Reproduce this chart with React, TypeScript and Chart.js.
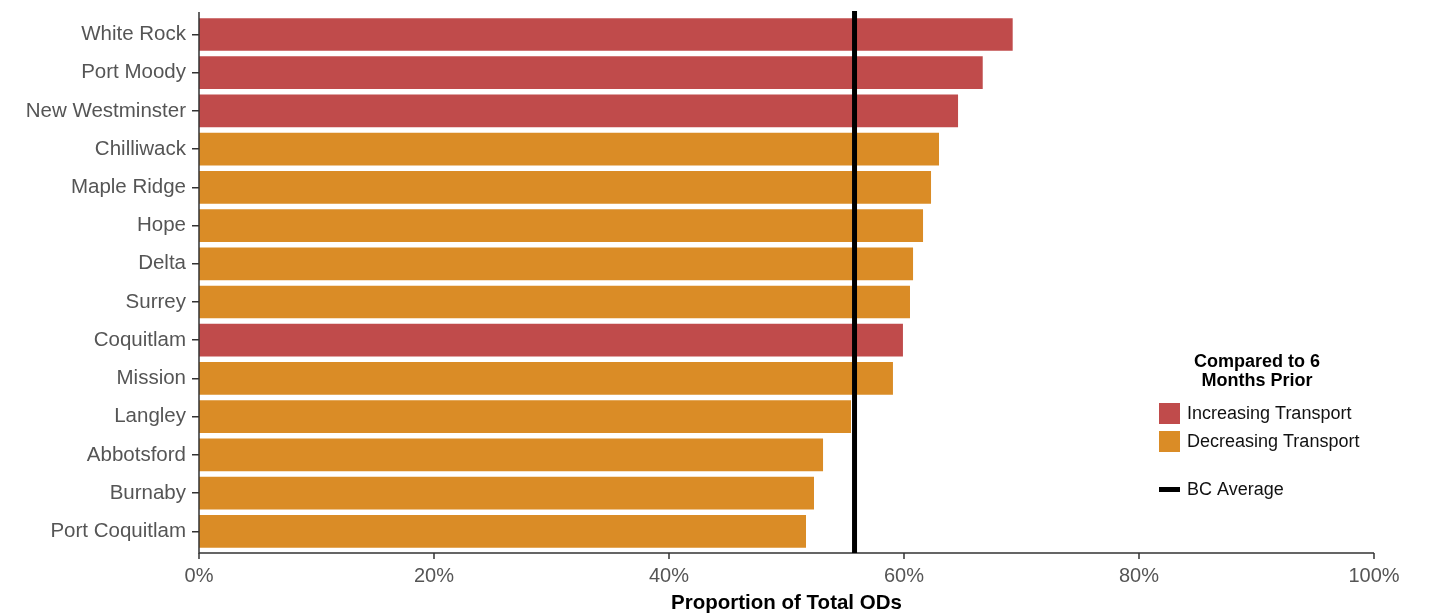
import React, { useEffect, useRef } from "react";
import { Chart, registerables } from "chart.js";

Chart.register(...registerables);

const categories = [
  "White Rock", "Port Moody", "New Westminster", "Chilliwack", "Maple Ridge", "Hope", "Delta",
  "Surrey", "Coquitlam", "Mission", "Langley", "Abbotsford", "Burnaby", "Port Coquitlam",
];
const proportions = [69.25, 66.7, 64.6, 62.98, 62.3, 61.62, 60.77, 60.51, 59.91, 59.06, 55.49, 53.11, 52.34, 51.66];
const trend = ["inc", "inc", "inc", "dec", "dec", "dec", "dec", "dec", "inc", "dec", "dec", "dec", "dec", "dec"];
const bcAverage = 55.79;
const xTicks = [0, 20, 40, 60, 80, 100];

const RED = "#C04B4B";
const ORANGE = "#DA8C26";
const FONT = "'Liberation Sans', Arial, Helvetica, sans-serif";

export default function App() {
  const ref = useRef<HTMLCanvasElement>(null);
  useEffect(() => {
    if (!ref.current) return;
    const overlay = {
      id: "overlay",
      afterDatasetsDraw(chart: any) {
        const ctx = chart.ctx;
        const xs = chart.scales.x;
        const area = chart.chartArea;
        const axisY = 553;
        ctx.save();
        // axis lines
        ctx.strokeStyle = "#333";
        ctx.lineWidth = 1.5;
        ctx.beginPath();
        ctx.moveTo(area.left, 12);
        ctx.lineTo(area.left, axisY);
        ctx.lineTo(area.right, axisY);
        ctx.stroke();
        xTicks.forEach((v) => {
          const px = xs.getPixelForValue(v);
          ctx.beginPath();
          ctx.moveTo(px, axisY);
          ctx.lineTo(px, axisY + 6);
          ctx.stroke();
        });
        // BC average line
        const bx = xs.getPixelForValue(bcAverage);
        ctx.strokeStyle = "#000";
        ctx.lineWidth = 5;
        ctx.beginPath();
        ctx.moveTo(bx, 11);
        ctx.lineTo(bx, axisY);
        ctx.stroke();
        // legend
        ctx.fillStyle = "#000";
        ctx.textAlign = "center";
        ctx.textBaseline = "middle";
        ctx.font = `bold 18px ${FONT}`;
        ctx.fillText("Compared to 6", 1257, 362);
        ctx.fillText("Months Prior", 1257, 381);
        ctx.fillStyle = RED;
        ctx.fillRect(1159, 403, 21, 21);
        ctx.fillStyle = ORANGE;
        ctx.fillRect(1159, 431, 21, 21);
        ctx.fillStyle = "#000";
        ctx.fillRect(1159, 487, 21, 5);
        ctx.textAlign = "left";
        ctx.font = `18px ${FONT}`;
        ctx.fillStyle = "#111";
        ctx.fillText("Increasing Transport", 1187, 414);
        ctx.fillText("Decreasing Transport", 1187, 442);
        ctx.fillText("BC Average", 1187, 490);
        ctx.restore();
      },
    };
    const chart = new Chart(ref.current, {
      type: "bar",
      data: {
        labels: categories,
        datasets: [
          {
            data: proportions,
            backgroundColor: trend.map((t) => (t === "inc" ? RED : ORANGE)),
            borderWidth: 0,
            categoryPercentage: 1,
            barPercentage: 0.856,
          },
        ],
      },
      options: {
        indexAxis: "y",
        animation: false,
        responsive: false,
        layout: { padding: { top: 15.4, right: 65, bottom: 0, left: 0 } },
        plugins: { legend: { display: false }, tooltip: { enabled: false } },
        scales: {
          x: {
            min: 0,
            max: 100,
            afterFit: (s: any) => { s.height = 616 - 550.4; s.paddingLeft = 0; s.paddingRight = 0; },
            afterBuildTicks: (s: any) => { s.ticks = xTicks.map((v) => ({ value: v })); },
            grid: { display: false },
            border: { display: false },
            ticks: {
              padding: 5.6,
              color: "#555",
              font: { size: 20, family: FONT },
              callback: (v: any) => `${v}%`,
            },
            title: {
              display: true,
              text: "Proportion of Total ODs",
              color: "#000",
              font: { size: 20.5, weight: "bold", family: FONT },
              padding: { top: 0, bottom: 0 },
            },
          },
          y: {
            afterFit: (s: any) => { s.width = 199; s.paddingTop = 0; s.paddingBottom = 0; },
            grid: { display: true, drawOnChartArea: false, offset: false, tickLength: 7, color: "#333", lineWidth: 1.5 },
            border: { display: false },
            ticks: { padding: 6, color: "#555", font: { size: 20.5, family: FONT } },
          },
        },
      },
      plugins: [overlay],
    } as any);
    return () => chart.destroy();
  }, []);
  return (
    <div style={{ position: "absolute", left: 0, top: 0, width: 1439, height: 616 }}>
      <canvas ref={ref} width={1439} height={616} />
    </div>
  );
}
